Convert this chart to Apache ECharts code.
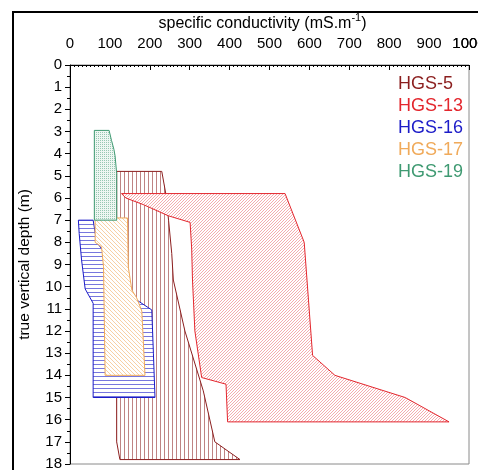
<!DOCTYPE html>
<html>
<head>
    <meta charset="utf-8">
    <title>specific conductivity</title>
    <script src="https://cdn.jsdelivr.net/npm/echarts@6/dist/echarts.min.js"></script>
    <style>
        html, body {margin:0;padding:0;background:#fff;}
        #chart {width:478px;height:470px;}
    </style>
</head>
<body>
<div id="chart"></div>
<script>
    // envelope of each well: [conductivity, depth], top -> bottom
    const hgs5Max = [[230, 4.8], [240, 5.8], [247, 7.0], [255, 8.5], [259, 9.7], [288, 12.0], [334, 14.7], [363, 17.0], [426, 17.8]];
    const hgs5Min = [[117, 4.8], [117, 17.0], [125, 17.8]];

    const hgs13Max = [[539, 5.8], [587, 8.0], [608, 13.1], [664, 14.0], [840, 15.0], [950, 16.1]];
    const hgs13Min = [[129, 5.8], [140, 6.0], [184, 6.3], [246, 6.8], [301, 7.1], [305, 8.3], [307, 9.7], [313, 12.0], [330, 14.1], [391, 14.4], [395, 16.1]];

    const hgs16Max = [[58, 7.0], [67, 8.0], [84, 8.4], [150, 10.3], [167, 10.6], [205, 11.05], [209, 13.0], [213, 15.0]];
    const hgs16Min = [[21, 7.0], [23, 7.6], [29, 8.8], [38, 10.1], [58, 10.75], [58, 15.0]];

    const hgs17Max = [[144, 6.9], [146, 9.1], [155, 10.15], [167, 10.5], [180, 11.1], [188, 14.0]];
    const hgs17Min = [[63, 6.9], [63, 8.0], [79, 8.2], [84, 9.1], [88, 14.0]];

    const hgs19Max = [[98, 2.95], [104, 3.4], [110, 3.8], [113, 4.1], [117, 4.9], [117, 7.0]];
    const hgs19Min = [[61, 2.95], [61, 7.0]];

    const wells = ['HGS-5', 'HGS-13', 'HGS-16', 'HGS-17', 'HGS-19'];
    const colors = ['#8b1e1e', '#e3262d', '#1c1cc8', '#f0aa5a', '#3f9a72'];
    const xMax = 1000;

    // hatch fills
    function pattern(kind, color, size, bg) {
        const c = document.createElement('canvas');
        c.width = size; c.height = size;
        const g = c.getContext('2d');
        g.fillStyle = bg || '#fff';
        g.fillRect(0, 0, size, size);
        g.strokeStyle = color;
        g.fillStyle = color;
        g.lineWidth = 1;
        g.beginPath();
        if (kind === 'v') { g.moveTo(0.5, 0); g.lineTo(0.5, size); }
        if (kind === 'h') { g.moveTo(0, 0.5); g.lineTo(size, 0.5); }
        if (kind === '/') {
            g.moveTo(0, size); g.lineTo(size, 0);
            g.moveTo(-1, 1); g.lineTo(1, -1);
            g.moveTo(size - 1, size + 1); g.lineTo(size + 1, size - 1);
        }
        if (kind === '\\') {
            g.moveTo(0, 0); g.lineTo(size, size);
            g.moveTo(size - 1, -1); g.lineTo(size + 1, 1);
            g.moveTo(-1, size - 1); g.lineTo(1, size + 1);
        }
        g.stroke();
        if (kind === 'dot') { g.fillRect(0, 0, 1, 1); }
        return {image: c, repeat: 'repeat'};
    }

    function envelope(name, maxPts, minPts, stroke, fill, z) {
        const pts = maxPts.concat(minPts.slice().reverse());
        return {
            type: 'custom',
            name: name,
            coordinateSystem: 'cartesian2d',
            z: z,
            silent: true,
            data: pts,
            renderItem: function (params, api) {
                if (params.dataIndex !== 0) return null;
                return {
                    type: 'polygon',
                    shape: {points: pts.map(function (p) { return api.coord(p); })},
                    style: {fill: fill, stroke: stroke, lineWidth: 1}
                };
            }
        };
    }

    const chart = echarts.init(document.getElementById('chart'), null, {renderer: 'canvas'});
    const font = 'Liberation Sans, Arial, sans-serif';

    chart.setOption({
        animation: false,
        textStyle: {fontFamily: font},
        grid: {
            left: 70, top: 65, right: 9, bottom: 6,
            containLabel: false, outerBoundsMode: 'none',
            show: true, borderColor: '#8a8a8a', borderWidth: 1
        },
        legend: {
            orient: 'vertical',
            left: 388,
            top: 70,
            icon: 'none',
            itemWidth: 0,
            itemHeight: 18,
            itemGap: 4,
            selectedMode: false,
            textStyle: {fontSize: 18, fontFamily: font, padding: 0},
            data: wells.map(function (w, i) { return {name: w, textStyle: {color: colors[i]}}; })
        },
        xAxis: {
            type: 'value',
            position: 'top',
            min: 0, max: xMax, interval: 100,
            name: '{a|specific conductivity (mS.m}{s|-1}{a|)}',
            nameLocation: 'middle',
            nameGap: 31,
            nameTextStyle: {
                padding: [0, 14, 0, 0],
                rich: {
                    a: {fontSize: 16, color: '#000', fontFamily: font},
                    s: {fontSize: 11, color: '#000', fontFamily: font, padding: [0, 0, 10, 0]}
                }
            },
            axisLine: {lineStyle: {color: '#000', width: 1}},
            axisTick: {inside: true, length: 5, lineStyle: {color: '#000'}},
            minorTick: {show: true, splitNumber: 10, length: 2, lineStyle: {color: '#000'}},
            axisLabel: {fontSize: 15, color: '#000', margin: 14, showMaxLabel: true,
                formatter: function (v) { return String(v); }},
            splitLine: {show: false}
        },
        yAxis: {
            type: 'value',
            inverse: true,
            min: 0, max: 18, interval: 1,
            name: 'true vertical depth (m)',
            nameLocation: 'middle',
            nameGap: 37,
            nameTextStyle: {fontSize: 15.5, color: '#000'},
            axisLine: {lineStyle: {color: '#000', width: 1}},
            axisTick: {length: 5, lineStyle: {color: '#000'}},
            minorTick: {show: true, splitNumber: 2, length: 3, lineStyle: {color: '#000'}},
            axisLabel: {fontSize: 15, color: '#000', margin: 8},
            splitLine: {show: false}
        },
        graphic: [{
            type: 'rect',
            silent: true,
            shape: {x: 13, y: 12, width: 700, height: 700},
            style: {fill: null, stroke: '#000', lineWidth: 2}
        }],
        series: [
            envelope('HGS-5', hgs5Max, hgs5Min, colors[0], pattern('v', 'rgba(139,30,30,0.55)', 4), 1),
            envelope('HGS-13', hgs13Max, hgs13Min, colors[1], pattern('/', 'rgba(227,38,45,0.38)', 3), 2),
            envelope('HGS-16', hgs16Max, hgs16Min, colors[2], pattern('h', 'rgba(28,28,200,0.6)', 4), 3),
            envelope('HGS-17', hgs17Max, hgs17Min, colors[3], pattern('\\', 'rgba(240,170,90,0.55)', 4), 4),
            envelope('HGS-19', hgs19Max, hgs19Min, colors[4], pattern('dot', 'rgba(63,154,114,0.5)', 2, '#eef6f2'), 5)
        ]
    });

    // the last tick label runs past the canvas edge and echarts drops it; put it back
    const lastX = chart.convertToPixel({xAxisIndex: 0}, xMax);
    const axisY = chart.convertToPixel({yAxisIndex: 0}, 0);
    chart.setOption({
        graphic: [{
            type: 'rect',
            silent: true,
            shape: {x: 13, y: 12, width: 700, height: 700},
            style: {fill: null, stroke: '#000', lineWidth: 2}
        }, {
            type: 'text',
            silent: true,
            x: lastX,
            y: axisY - 14,
            style: {text: String(xMax), font: '15px ' + font, fill: '#000', align: 'center', verticalAlign: 'bottom'}
        }]
    });
</script>
</body>
</html>
